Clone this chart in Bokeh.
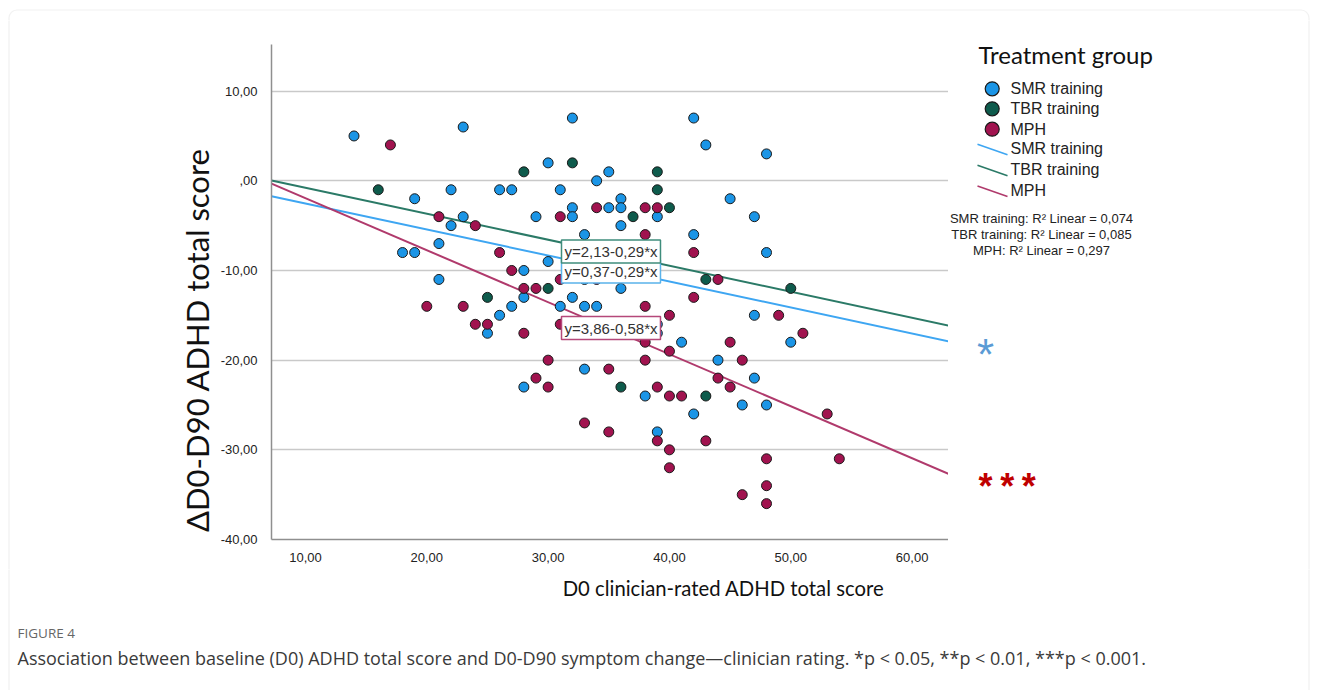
import math
from bokeh.plotting import figure
from bokeh.layouts import column, row
from bokeh.models import Range1d, Label, BoxAnnotation, CustomJSTickFormatter, FixedTicker
from bokeh.embed import file_html
from bokeh.resources import INLINE
from bokeh.core.properties import value

# ---------------- data ----------------
groups = ["SMR training", "TBR training", "MPH"]

smr_x = [14, 23, 22, 26, 27, 19, 23, 22, 21, 18, 19, 21, 26, 27, 25, 32, 42, 43, 30, 35,
         34, 31, 45, 36, 32, 35, 36, 29, 32, 39, 36, 33, 42, 30, 28, 33, 36, 32, 28, 31,
         33, 34, 39, 39, 41, 44, 33, 28, 38, 46, 42, 39, 48, 47, 48, 47, 50, 47, 48]
smr_y = [5, 6, -1, -1, -1, -2, -4, -5, -7, -8, -8, -11, -15, -14, -17, 7, 7, 4, 2, 1,
         0, -1, -2, -2, -3, -3, -3, -4, -4, -4, -5, -6, -6, -9, -10, -11, -12, -13, -13, -14,
         -14, -14, -16, -17, -18, -20, -21, -23, -24, -25, -26, -28, 3, -4, -8, -15, -18, -22, -25]

tbr_x = [16, 25, 32, 28, 39, 39, 40, 37, 43, 30, 36, 43, 50]
tbr_y = [-1, -13, 2, 1, 1, -1, -3, -4, -11, -12, -23, -24, -12]

mph_x = [17, 21, 24, 26, 27, 20, 23, 24, 25, 34, 38, 39, 31, 38, 42, 44, 28, 29, 31, 34,
         42, 38, 40, 31, 28, 38, 45, 40, 30, 38, 46, 35, 29, 44, 30, 39, 45, 40, 41, 33,
         35, 39, 43, 40, 40, 49, 51, 53, 48, 54, 48, 46, 48]
mph_y = [4, -4, -5, -8, -10, -14, -14, -16, -16, -3, -3, -3, -4, -6, -8, -11, -12, -12, -11, -11,
         -13, -14, -15, -16, -17, -18, -18, -19, -20, -20, -20, -21, -22, -22, -23, -23, -23, -24, -24, -27,
         -28, -29, -29, -30, -32, -15, -17, -26, -31, -31, -34, -35, -36]

intercepts = [0.37, 2.13, 3.86]
slopes = [-0.29, -0.29, -0.58]
equations = ["y=0,37-0,29*x", "y=2,13-0,29*x", "y=3,86-0,58*x"]
r2_values = ["0,074", "0,085", "0,297"]

x_ticks = [10, 20, 30, 40, 50, 60]
y_ticks = [10, 0, -10, -20, -30, -40]

x_title = "D0 clinician-rated ADHD total score"
y_title = "ΔD0-D90 ADHD total score"
legend_title = "Treatment group"
fig_label = "FIGURE 4"
caption = ("Association between baseline (D0) ADHD total score and D0-D90 symptom change\u2014"
           "clinician rating. *p < 0.05, **p < 0.01, ***p < 0.001.")

# ---------------- style ----------------
point_colors = ["#1b95e6", "#0e5b4c", "#a1134f"]
line_colors = ["#3ea6f2", "#2b7a67", "#b03a6c"]
box_colors = ["#5ab3ea", "#3f8d7c", "#b5487a"]
X_LO, X_HI = 7.2, 63.0
Y_LO, Y_HI = -40, 15.2
ARIAL = "Liberation Sans"
LATO = "Lato"
FRAME_COLOR = "#cfcfcf"

# page layout (pixels)
W_TOTAL = 1316
TOP_Y, MID_Y, BOT_Y, END_Y = 0, 20, 569, 690
FRAME_L, FRAME_R, FRAME_T, FRAME_B = 270, 948, 44, 539
YAXIS_W = 53
L_W = FRAME_L - YAXIS_W
M_W = FRAME_R - L_W
R_W = W_TOTAL - FRAME_R


def aux_fig(px0, px1, py0, py1):
    """Blank strip whose data coordinates are page pixels (x, -y)."""
    f = figure(width=px1 - px0, height=py1 - py0, output_backend="svg", toolbar_location=None,
               x_range=Range1d(px0, px1), y_range=Range1d(-py1, -py0),
               x_axis_type=None, y_axis_type=None, min_border=0, title=None,
               frame_align=False)
    f.outline_line_color = None
    f.background_fill_color = "white"
    f.border_fill_color = "white"
    f.add_layout(BoxAnnotation(left=8.5, right=1308.5, top=-9.5, bottom=-760,
                               fill_color=None, fill_alpha=0, line_color=FRAME_COLOR,
                               line_width=1.2, border_radius=8))
    return f


# ---------------- main plot ----------------
p = figure(width=M_W, height=BOT_Y - MID_Y, output_backend="svg", toolbar_location=None,
           x_range=Range1d(X_LO, X_HI), y_range=Range1d(Y_LO, Y_HI), title=None,
           min_border_left=YAXIS_W, min_border_right=0,
           min_border_top=FRAME_T - MID_Y, min_border_bottom=BOT_Y - FRAME_B,
           frame_align=False)
p.outline_line_color = None
p.background_fill_color = "white"
p.border_fill_color = "white"
p.xgrid.visible = False
p.ygrid.ticker = FixedTicker(ticks=y_ticks)
p.ygrid.grid_line_color = "#c9c9c9"
p.ygrid.grid_line_width = 1.6

fmt_code = "if (Math.abs(tick) < 1e-9) { return ',00'; } return tick.toFixed(2).replace('.', ',');"
p.xaxis.ticker = FixedTicker(ticks=x_ticks)
p.yaxis.ticker = FixedTicker(ticks=y_ticks)
for ax in (p.xaxis, p.yaxis):
    ax.formatter = CustomJSTickFormatter(code=fmt_code)
    ax.major_tick_line_color = None
    ax.minor_tick_line_color = None
    ax.axis_line_color = "#8f8f8f"
    ax.axis_line_width = 1.5
    ax.major_label_text_font = ARIAL
    ax.major_label_text_font_size = "13px"
    ax.major_label_text_color = "#222222"
p.xaxis.major_label_standoff = 7
p.yaxis.major_label_standoff = 8

# regression lines
for a, b, c in zip(intercepts, slopes, line_colors):
    p.line([X_LO, X_HI], [a + b * X_LO, a + b * X_HI], line_color=c, line_width=2)

# points
for xs, ys, c in zip([smr_x, tbr_x, mph_x], [smr_y, tbr_y, mph_y], point_colors):
    p.scatter(xs, ys, size=10, fill_color=c, line_color="#1a1a1a", line_width=1)

# equation boxes (SMR first so the TBR box overlaps it)
for idx, cy in [(0, 271), (1, 251), (2, 327.5)]:
    p.add_layout(Label(x=560 - FRAME_L, y=FRAME_B - cy, x_units="screen", y_units="screen",
                       text=equations[idx], text_font=ARIAL, text_font_size="15px",
                       text_color="#333333", text_align="left", text_baseline="middle",
                       border_line_color=box_colors[idx], border_line_width=1.5,
                       background_fill_color="white", padding=3))

# ---------------- strips ----------------
top = aux_fig(0, W_TOTAL, TOP_Y, MID_Y)

left = aux_fig(0, L_W, MID_Y, BOT_Y)
left.text(x=[196], y=[-339.5], text=[y_title], angle=math.pi / 2,
          text_font=value(LATO), text_font_size="31px", text_color="#111111",
          text_align="center", text_baseline="middle")

right = aux_fig(FRAME_R, W_TOTAL, MID_Y, BOT_Y)
right.text(x=[978], y=[-54], text=[legend_title], text_font=value(LATO), text_font_size="24px",
           text_color="#111111", text_align="left", text_baseline="middle")
circle_rows = [88.3, 108.3, 128.7]
line_rows = [148.3, 169.3, 190.0]
right.scatter(x=[991.7] * 3, y=[-r for r in circle_rows], size=14, fill_color=point_colors,
              line_color="#1a1a1a", line_width=1.2)
right.segment(x0=[977] * 3, y0=[-(r - 4.5) for r in line_rows], x1=[1007] * 3,
              y1=[-(r + 6) for r in line_rows], line_color=line_colors, line_width=1.6)
right.text(x=[1010] * 6, y=[-r for r in circle_rows + line_rows], text=groups + groups,
           text_font=value(ARIAL), text_font_size="16px", text_color="#222222",
           text_align="left", text_baseline="middle")
right.text(x=[1041] * 3, y=[-218, -234, -250],
           text=[f"{g}: R² Linear = {r}" for g, r in zip(groups, r2_values)],
           text_font=value(ARIAL), text_font_size="13px", text_color="#222222",
           text_align="center", text_baseline="middle")
right.text(x=[985], y=[-354], text=["*"], text_font=value(ARIAL), text_font_size="44px",
           text_color="#5b9bd5", text_align="center", text_baseline="middle")
right.text(x=[985, 1006.7, 1028.3], y=[-486] * 3, text=["*"] * 3, text_font=value(ARIAL),
           text_font_size="36px", text_font_style="bold", text_color="#c00000",
           text_align="center", text_baseline="middle")

bottom = aux_fig(0, W_TOTAL, BOT_Y, END_Y)
bottom.text(x=[723], y=[-587], text=[x_title], text_font=value(LATO), text_font_size="20.3px",
            text_color="#111111", text_align="center", text_baseline="middle")
bottom.text(x=[17], y=[-632], text=[fig_label], text_font=value("Open Sans"),
            text_font_size="13.5px", text_color="#666666", text_align="left",
            text_baseline="middle")
bottom.text(x=[17], y=[-657], text=[caption], text_font=value("Open Sans"),
            text_font_size="18px", text_color="#3a3a3a", text_align="left",
            text_baseline="middle")

layout = column(top, row(left, p, right, spacing=0), bottom, spacing=0)
open("out.html", "w").write(file_html(layout, INLINE))
